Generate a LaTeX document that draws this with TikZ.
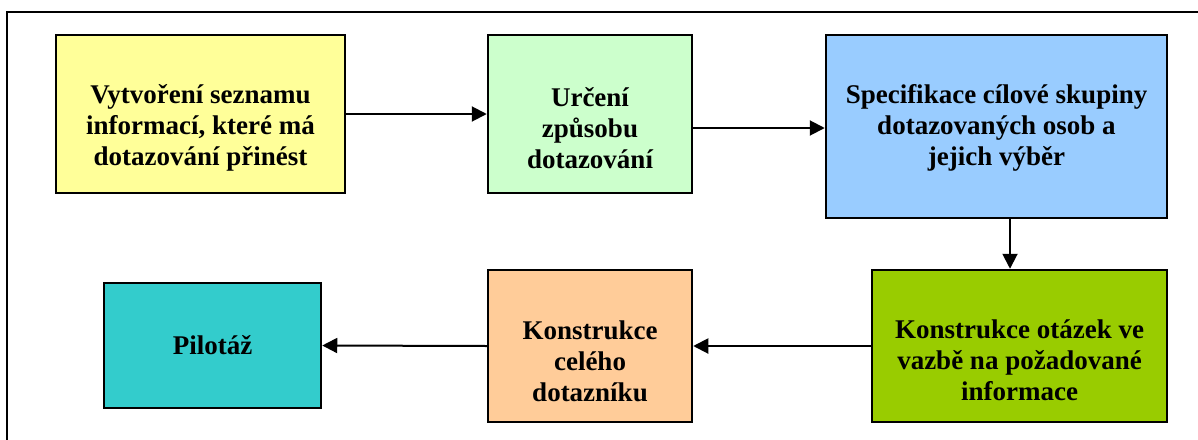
\documentclass[tikz,border=0pt]{standalone}
\usepackage{fontspec}
\setmainfont{Liberation Serif}
\usetikzlibrary{arrows.meta}
\definecolor{cyellow}{HTML}{FFFF99}
\definecolor{clgreen}{HTML}{CCFFCC}
\definecolor{cblue}{HTML}{99CCFF}
\definecolor{cdgreen}{HTML}{99CC00}
\definecolor{corange}{HTML}{FFCC99}
\definecolor{cteal}{HTML}{33CCCC}
\tikzset{
  box/.style={draw=black, line width=2.5pt, inner sep=0pt},
  txt/.style={font=\fontsize{27}{31}\selectfont\bfseries, align=center},
  conn/.style={line width=2pt, -{Triangle[length=15pt,width=15pt]}}
}
\begin{document}
\begin{tikzpicture}[x=1pt,y=-1pt]
\useasboundingbox (0,0) rectangle (1198,439);
\clip (0,0) rectangle (1198,439);
\draw[line width=2pt] (7,460) -- (7,12) -- (1220,12);
\node[box, fill=cyellow, minimum width=289pt, minimum height=158pt] (yel) at (200.5,114) {};
\node[txt] (tyel) at (200.5,128) {Vytvoření seznamu\\informací, které má\\dotazování přinést};
\node[box, fill=clgreen, minimum width=204pt, minimum height=158pt] (grn) at (590,114) {};
\node[txt] (tgrn) at (590,128) {Určení\\způsobu\\dotazování};
\node[box, fill=cblue, minimum width=341pt, minimum height=183pt] (blu) at (996.5,126.5) {};
\node[txt] (tblu) at (996.5,128) {Specifikace cílové skupiny\\dotazovaných osob a\\jejich výběr};
\node[box, fill=cdgreen, minimum width=295pt, minimum height=152pt] (dgr) at (1019.5,346) {};
\node[txt] (tdgr) at (1019.5,360) {Konstrukce otázek ve\\vazbě na požadované\\informace};
\node[box, fill=corange, minimum width=204pt, minimum height=152pt] (ora) at (590,346) {};
\node[txt] (tora) at (590,361) {Konstrukce\\celého\\dotazníku};
\node[box, fill=cteal, minimum width=217pt, minimum height=125pt] (tea) at (212.5,345.5) {};
\node[txt] (ttea) at (212.5,345.5) {Pilotáž};
\draw[conn] (yel.east) -- (grn.west);
\draw[conn] (grn.east |- tblu.center) -- (blu.west |- tblu.center);
\draw[conn] ([xshift=13.5pt]blu.south) -- ([xshift=13.5pt]blu.south |- dgr.north);
\draw[conn] (dgr.west) -- (ora.east);
\draw[conn] (ora.west) -- (tea.east);
\end{tikzpicture}
\end{document}
